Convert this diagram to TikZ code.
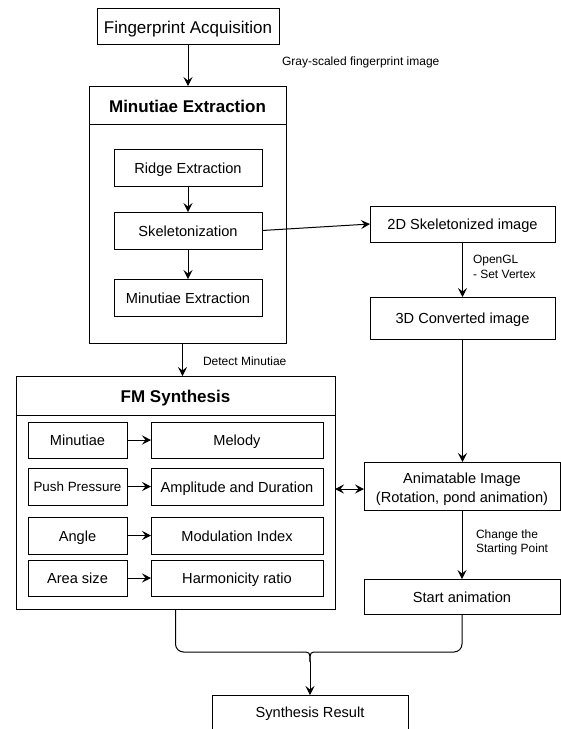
\documentclass[tikz,border=0pt]{standalone}
\usepackage{fontspec}
\setmainfont{Liberation Sans}
\usetikzlibrary{arrows.meta}
\begin{document}
\begin{tikzpicture}[x=1pt,y=-1pt,
  every node/.style={inner sep=0pt, outer sep=0pt},
  box/.style={draw, line width=0.9pt, font=\fontsize{14.6}{18}\selectfont, align=center, text height=13.1pt, text depth=1.5pt},
  plainbox/.style={draw, line width=0.9pt},
  bigbox/.style={box, font=\fontsize{17}{20}\selectfont, text height=15.5pt, text depth=1.5pt},
  titlebox/.style={box, font=\bfseries\fontsize{17}{20}\selectfont, text height=15.5pt, text depth=1.5pt},
  lbl/.style={font=\fontsize{12}{14.5}\selectfont, align=left, anchor=west},
  tip/.tip={Stealth[length=9pt,width=9pt,inset=3.5pt]},
  arr/.style={line width=1pt, -tip},
  dbl/.style={line width=1pt, tip-tip},
  ln/.style={line width=1pt}
]
\useasboundingbox (0,0) rectangle (561,729);

% top
\node[bigbox, minimum width=182pt, minimum height=36pt] (acq) at (188,26) {Fingerprint Acquisition};
\node[lbl] (graylbl) at (282,62) {Gray-scaled fingerprint image};

% Minutiae extraction container
\node[titlebox, minimum width=197pt, minimum height=38pt] (mintitle) at (187.5,105) {Minutiae Extraction};
\node[plainbox, minimum width=197pt, minimum height=219pt] (minbody) at (187.5,233.5) {};
\node[box, minimum width=148pt, minimum height=37pt] (ridge) at (188,167.5) {Ridge Extraction};
\node[box, minimum width=148pt, minimum height=37pt] (skel) at (188,230.5) {Skeletonization};
\node[box, minimum width=148pt, minimum height=37pt] (minex) at (188,297.5) {Minutiae Extraction};

% right column
\node[box, minimum width=185pt, minimum height=36pt] (sk2d) at (462.5,224) {2D Skeletonized image};
\node[lbl] (ogl) at (473,267) {OpenGL\\- Set Vertex};
\node[box, minimum width=185pt, minimum height=42pt] (conv) at (462.5,318) {3D Converted image};
\node[plainbox, minimum width=196pt, minimum height=48pt] (anim) at (462,486) {};
\node[font=\fontsize{14.6}{18.5}\selectfont, align=center] (animtext) at (462,489) {Animatable Image\\(Rotation, pond animation)};
\node[lbl] (chg) at (476,542.5) {Change the\\Starting Point};
\node[box, minimum width=196pt, minimum height=35pt] (start) at (462,596.5) {Start animation};

% FM synthesis container
\node[lbl] (detlbl) at (203,361) {Detect Minutiae};
\node[titlebox, minimum width=319pt, minimum height=39pt] (fmtitle) at (175.5,395.5) {FM Synthesis};
\node[plainbox, minimum width=319pt, minimum height=194pt] (fmbody) at (175.5,512) {};

\node[box, minimum width=99pt, minimum height=36pt] (a1) at (77.5,440) {Minutiae};
\node[box, minimum width=172pt, minimum height=36pt] (b1) at (237,440) {Melody};
\node[box, minimum width=99pt, minimum height=37pt, font=\fontsize{13.4}{16}\selectfont, text height=12pt, text depth=1.4pt] (a2) at (77.5,486.5) {Push Pressure};
\node[box, minimum width=172pt, minimum height=37pt] (b2) at (237,486.5) {Amplitude and Duration};
\node[box, minimum width=99pt, minimum height=37pt] (a3) at (77.5,535.5) {Angle};
\node[box, minimum width=172pt, minimum height=37pt] (b3) at (237,535.5) {Modulation Index};
\node[box, minimum width=99pt, minimum height=36pt] (a4) at (77.5,578) {Area size};
\node[box, minimum width=172pt, minimum height=36pt] (b4) at (237,578) {Harmonicity ratio};

% result
\node[plainbox, minimum width=196pt, minimum height=50pt, anchor=north] (res) at (310,695) {};
\node[font=\fontsize{14.6}{18}\selectfont, text height=13.1pt, text depth=1.5pt] (restext) at (310,712) {Synthesis Result};

% connectors
\draw[arr] (acq.south) -- (acq.south |- mintitle.north);
\draw[arr] (ridge) -- (skel);
\draw[arr] (skel) -- (minex);
\draw[arr] (skel.east) -- (sk2d.west);
\draw[arr] ([xshift=-5pt]minbody.south) -- ([xshift=-5pt]minbody.south |- fmtitle.north);
\draw[arr] (sk2d) -- (conv);
\draw[arr] (conv.south) -- (conv.south |- anim.north);
\draw[dbl] (animtext.west -| fmbody.east) -- (animtext.west -| anim.west);
\draw[arr] (anim.south -| start.north) -- (start.north);
\draw[arr] (a1) -- (b1);
\draw[arr] (a2) -- (b2);
\draw[arr] (a3) -- (b3);
\draw[arr] (a4) -- (b4);

% merging brace
\coordinate (j) at (310,652);
\coordinate (jl) at (302,652);
\coordinate (jr) at (318,652);
\coordinate (jb) at (310,662);
\draw[ln, rounded corners=8pt] (fmbody.south) |- (jl);
\draw[ln] (jl) .. controls (j) .. (jb);
\draw[ln, rounded corners=8pt] (start.south) |- (jr);
\draw[ln] (jr) .. controls (j) .. (jb);
\draw[arr] (jb) -- (res.north);
\end{tikzpicture}
\end{document}
